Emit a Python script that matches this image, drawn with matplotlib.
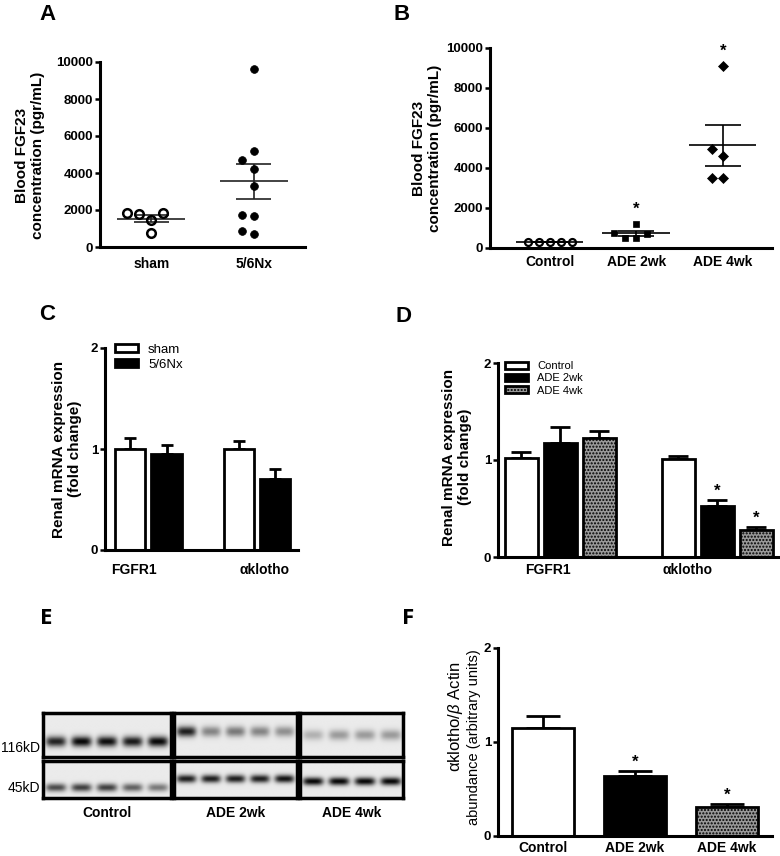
import numpy as np
import matplotlib
matplotlib.use('Agg')
import matplotlib.pyplot as plt
from matplotlib.patches import Patch

plt.rcParams['font.family'] = ['Liberation Sans', 'DejaVu Sans']
plt.rcParams['mathtext.fontset'] = 'custom'
plt.rcParams['mathtext.it'] = 'Liberation Sans:italic'
plt.rcParams['mathtext.rm'] = 'Liberation Sans'
plt.rcParams['hatch.linewidth'] = 1.0

W, H = 780, 856

# ---------------- data ----------------
a_groups = ['sham', '5/6Nx']
a_sham = [1820, 1765, 1460, 1820, 770]
a_nx = [9600, 5200, 4700, 4200, 3300, 1750, 1650, 720, 850]
a_yticks = [0, 2000, 4000, 6000, 8000, 10000]

b_groups = ['Control', 'ADE 2wk', 'ADE 4wk']
b_control = [300, 290, 280, 290, 300]
b_ade2 = [1200, 730, 520, 520, 680]
b_ade4 = [9100, 4950, 4600, 3500, 3500]
b_sig = [False, True, True]

c_genes = ['FGFR1', '\u03b1klotho']
c_series = ['sham', '5/6Nx']
c_mean = [[1.0, 1.0], [0.955, 0.70]]
c_err = [[0.11, 0.075], [0.085, 0.10]]

d_genes = ['FGFR1', '\u03b1klotho']
d_series = ['Control', 'ADE 2wk', 'ADE 4wk']
d_mean = [[1.02, 1.01], [1.18, 0.53], [1.23, 0.28]]
d_err = [[0.06, 0.035], [0.165, 0.06], [0.065, 0.03]]
d_sig = [[False, False], [False, True], [False, True]]

f_groups = ['Control', 'ADE 2wk', 'ADE 4wk']
f_mean = [1.15, 0.64, 0.31]
f_err = [0.13, 0.05, 0.03]
f_sig = [False, True, True]

e_groups = ['Control', 'ADE 2wk', 'ADE 4wk']
e_klotho = [[0.88, 1.0, 0.97, 0.92, 1.0], [0.9, 0.45, 0.5, 0.45, 0.4], [0.25, 0.35, 0.35, 0.35]]
e_actin = [[0.7, 0.75, 0.75, 0.6, 0.5], [0.9, 0.9, 0.9, 0.9, 0.95], [1.0, 1.0, 1.0, 1.0]]
e_markers = ['116kD', '45kD']

bar_y_ticks = [0, 1, 2]

# ---------------- helpers ----------------
fig = plt.figure(figsize=(7.8, 8.56), dpi=100)


def add_ax(x0, x1, y0, y1):
    return fig.add_axes([x0 / W, 1 - y1 / H, (x1 - x0) / W, (y1 - y0) / H])


def ftext(x, y, s, **kw):
    return fig.text(x / W, 1 - y / H, s, **kw)


def style(ax, xpad=6, ylab=9.5):
    for s in ['top', 'right']:
        ax.spines[s].set_visible(False)
    for s in ['left', 'bottom']:
        ax.spines[s].set_linewidth(2.2)
    ax.tick_params(axis='y', length=3.5, width=1.8, labelsize=ylab, pad=1.5)
    ax.tick_params(axis='x', length=0, labelsize=10, pad=xpad)
    for lab in ax.get_yticklabels() + ax.get_xticklabels():
        lab.set_fontweight('bold')


def swarm(vals, px_per_y, diam, step):
    vals = np.asarray(vals, float)
    order = np.argsort(vals, kind='stable')
    placed = []
    offs = np.zeros(len(vals))
    cands = [0]
    for n in range(1, 20):
        cands += [-n, n]
    for i in order:
        y = vals[i] * px_per_y
        for c in cands:
            x = c * step
            if all((x - px) ** 2 + (y - py) ** 2 >= diam ** 2 for px, py in placed):
                break
        placed.append((x, y))
        offs[i] = c
    return offs


def mean_sem(ax, x, vals, mhalf, shalf, color='k', lw=1.2):
    v = np.asarray(vals, float)
    m = v.mean()
    s = v.std(ddof=1) / np.sqrt(len(v))
    ax.hlines(m, x - mhalf, x + mhalf, color=color, lw=lw, zorder=2)
    ax.hlines([m - s, m + s], x - shalf, x + shalf, color=color, lw=lw, zorder=2)
    ax.vlines(x, m - s, m + s, color=color, lw=lw, zorder=2)


# ---------------- Panel A ----------------
axA = add_ax(100, 305, 62, 247)
axA.set_xlim(-0.5, 1.5)
axA.set_ylim(0, 10000)
pxy = 185 / 10000.0
pxx = 205 / 2.0
for gi, (vals, kw) in enumerate([
        (a_sham, dict(marker='o', ms=6.2, mfc='none', mec='k', mew=1.8)),
        (a_nx, dict(marker='o', ms=5.6, mfc='k', mec='k', mew=0.5))]):
    offs = swarm(vals, pxy, 10, 12) * 12 / pxx
    axA.plot(gi + offs, vals, ls='none', zorder=3, **kw)
    mean_sem(axA, gi, vals, 0.33, 0.17, color='#222222')
axA.set_xticks(range(len(a_groups)))
axA.set_xticklabels(a_groups)
axA.set_yticks(a_yticks)
style(axA, xpad=7)
ftext(30, 155, 'Blood FGF23\nconcentration (pgr/mL)', rotation=90, ha='center', va='center',
      fontsize=11, fontweight='bold', multialignment='center')

# ---------------- Panel B ----------------
axB = add_ax(490, 772, 48, 248)
axB.set_xlim(-0.69, 2.57)
axB.set_ylim(0, 10000)
pxy = 200 / 10000.0
pxx = 282 / 3.26
bkw = [dict(marker='o', ms=5.0, mfc='none', mec='k', mew=1.6),
       dict(marker='s', ms=5.0, mfc='k', mec='k', mew=0.5),
       dict(marker='D', ms=5.2, mfc='k', mec='k', mew=0.5)]
for gi, vals in enumerate([b_control, b_ade2, b_ade4]):
    offs = swarm(vals, pxy, 9.5, 11) * 11 / pxx
    axB.plot(gi + offs, vals, ls='none', zorder=3, **bkw[gi])
    mean_sem(axB, gi, vals, 0.39, 0.21)
    if b_sig[gi]:
        axB.annotate('*', xy=(gi, max(vals)), xytext=(0, 5), textcoords='offset points',
                     ha='center', va='bottom', fontsize=12, fontweight='bold')
axB.set_xticks(range(len(b_groups)))
axB.set_xticklabels(b_groups)
axB.set_yticks(a_yticks)
style(axB, xpad=5)
ftext(427, 148, 'Blood FGF23\nconcentration (pgr/mL)', rotation=90, ha='center', va='center',
      fontsize=11, fontweight='bold', multialignment='center')

# ---------------- Panel C ----------------
axC = add_ax(105, 298, 348, 550)
axC.set_xlim(-0.40, 1.378)
axC.set_ylim(0, 2)
c_fc = ['white', 'black']
xg = np.arange(len(c_genes))
for si in range(len(c_series)):
    xs = xg + (si - 0.5) * 0.336
    axC.errorbar(xs, c_mean[si], yerr=[np.zeros(len(xg)), c_err[si]], fmt='none', ecolor='k',
                 elinewidth=2, capsize=4.3, capthick=2, zorder=1)
    axC.bar(xs, c_mean[si], width=0.28, color=c_fc[si], edgecolor='k', linewidth=2, zorder=2)
axC.set_xticks([-0.134, 1.07])
axC.set_xticklabels(c_genes)
axC.set_yticks(bar_y_ticks)
style(axC, xpad=9)
hC = [Patch(facecolor=c, edgecolor='k', linewidth=2) for c in c_fc]
axC.legend(hC, c_series, loc='upper left', bbox_to_anchor=(0.052, 1.02), frameon=False,
           fontsize=9.5, handlelength=1.75, handleheight=0.6, labelspacing=0.2,
           handletextpad=0.75, borderaxespad=0, borderpad=0)
ftext(67, 449, 'Renal mRNA expression\n(fold change)', rotation=90, ha='center', va='center',
      fontsize=11, fontweight='bold', multialignment='center')

# ---------------- Panel D ----------------
axD = add_ax(498, 780, 363, 557)
axD.set_xlim(-0.396, 1.40)
axD.set_ylim(0, 2)
d_fc = ['white', 'black', '#999999']
d_hatch = [None, None, '.....']
xg = np.arange(len(d_genes))
for si in range(len(d_series)):
    xs = xg + (si - 1) * 0.249
    axD.errorbar(xs, d_mean[si], yerr=[np.zeros(len(xg)), d_err[si]], fmt='none', ecolor='k',
                 elinewidth=2, capsize=7, capthick=2, zorder=1)
    axD.bar(xs, d_mean[si], width=0.211, color=d_fc[si], edgecolor='k', linewidth=2,
            hatch=d_hatch[si], zorder=2)
    for gi in range(len(xg)):
        if d_sig[si][gi]:
            axD.annotate('*', xy=(xs[gi], d_mean[si][gi] + d_err[si][gi]), xytext=(0, 1),
                         textcoords='offset points', ha='center', va='bottom',
                         fontsize=12, fontweight='bold')
axD.set_xticks([-0.077, 0.81])
axD.set_xticklabels(d_genes)
axD.set_yticks(bar_y_ticks)
style(axD, xpad=4)
hD = [Patch(facecolor=c, edgecolor='k', linewidth=2, hatch=h) for c, h in zip(d_fc, d_hatch)]
axD.legend(hD, d_series, loc='upper left', bbox_to_anchor=(0.025, 1.01), frameon=False,
           fontsize=8, handlelength=2.07, handleheight=0.6, labelspacing=0.2,
           handletextpad=0.8, borderaxespad=0, borderpad=0)
ftext(457, 457, 'Renal mRNA expression\n(fold change)', rotation=90, ha='center', va='center',
      fontsize=11, fontweight='bold', multialignment='center')

# ---------------- Panel F ----------------
axF = add_ax(498, 772, 648, 836)
axF.set_xlim(-0.489, 2.49)
axF.set_ylim(0, 2)
f_fc = ['white', 'black', '#999999']
f_hatch = [None, None, '.....']
xs = np.arange(len(f_groups))
axF.errorbar(xs, f_mean, yerr=[np.zeros(len(xs)), f_err], fmt='none', ecolor='k',
             elinewidth=2, capsize=12, capthick=2, zorder=1)
for i in range(len(xs)):
    axF.bar(xs[i], f_mean[i], width=0.674, color=f_fc[i], edgecolor='k', linewidth=2,
            hatch=f_hatch[i], zorder=2)
    if f_sig[i]:
        axF.annotate('*', xy=(xs[i], f_mean[i] + f_err[i]), xytext=(0, 1),
                     textcoords='offset points', ha='center', va='bottom',
                     fontsize=12, fontweight='bold')
axF.set_xticks(xs)
axF.set_xticklabels(f_groups)
axF.set_yticks(bar_y_ticks)
style(axF, xpad=3.5)
ftext(455, 717, '\u03b1klotho/$\\beta$ Actin', rotation=90, ha='center', va='center',
      fontsize=12)
ftext(474, 737, 'abundance (arbitrary units)', rotation=90, ha='center', va='center',
      fontsize=10.5)

# ---------------- Panel E (blot) ----------------
box_x = [(43, 171), (174, 297), (300, 403)]
row_y = [(713, 757), (761, 798)]
band_pos = [[0.65, 0.42, 0.5], [0.72, 0.48, 0.55]]
band_h = [0.12, 0.11]
nx, ny = 240, 80
gx = np.linspace(0, 1, nx)
gy = np.linspace(0, 1, ny)
for ri, rows in enumerate([e_klotho, e_actin]):
    for bi, lanes in enumerate(rows):
        n = len(lanes)
        dark = np.zeros((ny, nx))
        for li, inten in enumerate(lanes):
            cx = (li + 0.5) / n
            prof = np.exp(-((gx - cx) / (0.40 / n)) ** 4)[None, :] * \
                np.exp(-((gy - band_pos[ri][bi]) / band_h[ri]) ** 2)[:, None]
            dark = 1 - (1 - dark) * (1 - 0.97 * inten * prof)
        img = 0.92 * (1 - dark)
        x0, x1 = box_x[bi]
        y0, y1 = row_y[ri]
        ax = add_ax(x0, x1, y0, y1)
        ax.imshow(img, cmap='gray', vmin=0, vmax=1, aspect='auto', interpolation='bilinear',
                  extent=(0, 1, 1, 0))
        ax.set_xticks([])
        ax.set_yticks([])
        for s in ax.spines.values():
            s.set_linewidth(2.5)
ftext(40, 748, e_markers[0], ha='right', va='center', fontsize=10)
ftext(40, 788, e_markers[1], ha='right', va='center', fontsize=10)
for (x0, x1), g in zip(box_x, e_groups):
    ftext((x0 + x1) / 2, 813, g, ha='center', va='center', fontsize=10, fontweight='bold')

# ---------------- panel letters ----------------
for (x, y, s) in [(47, 15, 'A'), (402, 14, 'B'), (47, 315, 'C'), (403, 316, 'D')]:
    ftext(x, y, s, ha='center', va='center', fontsize=16, fontweight='bold')
for (x, y, s) in [(46, 619, 'E'), (408, 618, 'F')]:
    ftext(x, y, s, ha='center', va='center', fontsize=16, fontweight='bold', family='Open Sans')

fig.savefig('out.png', dpi=100)
